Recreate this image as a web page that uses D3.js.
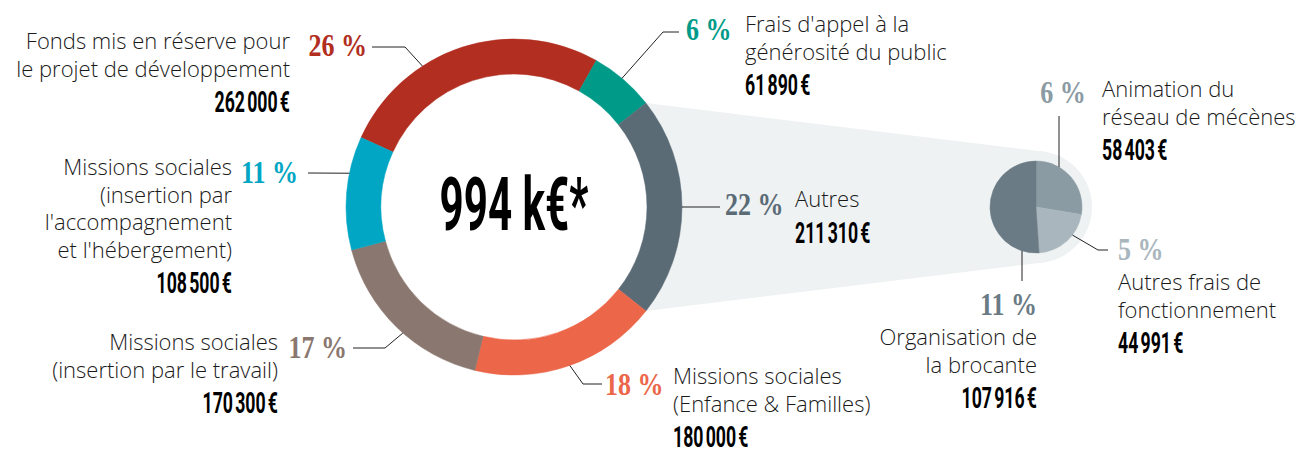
<!DOCTYPE html>
<html>
<head>
<meta charset="utf-8">
<script src="https://cdn.jsdelivr.net/npm/d3@7"></script>
<style>
  body { margin: 0; background: #fff; }
  .lbl { font-family: "Open Sans", sans-serif; font-weight: 300; font-size: 22px; fill: #1a1a1a; }
  .num { font-family: Roboto, sans-serif; font-weight: 700; fill: #000; }
  .pct { font-family: "Liberation Serif", serif; font-weight: 700; }
  .leader { fill: none; stroke: #222; stroke-width: 1; }
</style>
</head>
<body>
<div id="chart"></div>
<script>
// --- data ---
const categories = [
  ["Fonds mis en réserve pour", "le projet de développement"],
  ["Frais d'appel à la", "générosité du public"],
  ["Autres"],
  ["Missions sociales", "(Enfance & Familles)"],
  ["Missions sociales", "(insertion par le travail)"],
  ["Missions sociales", "(insertion par", "l'accompagnement", "et l'hébergement)"]
];
const values = [262000, 61890, 211310, 180000, 170300, 108500];
const pctLabels = ["26 %", "6 %", "22 %", "18 %", "17 %", "11 %"];
const colors = ["#b12e20", "#009b88", "#5b6b76", "#ec674a", "#8a776f", "#00a6c3"];

// detail of "Autres"
const subCategories = [
  ["Animation du", "réseau de mécènes"],
  ["Autres frais de", "fonctionnement"],
  ["Organisation de", "la brocante"]
];
const subValues = [58403, 44991, 107916];
const subPctLabels = ["6 %", "5 %", "11 %"];
const subColors = ["#8b9ba4", "#a9b6bd", "#6b7b85"];

// --- layout ---
const W = 1300, H = 450;
const cx = 514, cy = 207, rIn = 133, rOut = 168;
const sx = 1036, sy = 207, sr = 46, halo = 56;
const bandColor = "#eef2f3";
const lineStep = 27.5, numGap = 35.5;

// label anchors (angle where leader meets the ring, in degrees)
const mainLayout = [
  {ang: -33, pts: [[405, 47], [372, 47]], pct: [367, 56, "end"], txt: [290, 49, "end"]},
  {ang: 40, pts: [[663, 32], [679, 32]], pct: [686, 40, "start"], txt: [745, 32, "start"]},
  {ang: 90, pts: [[720, 207]], pct: [725, 215, "start"], txt: [795, 207, "start"]},
  {ang: 160.6, pts: [[583, 384], [602, 384]], pct: [605, 395, "start"], txt: [673, 384, "start"]},
  {ang: -138.6, pts: [[385, 348], [353, 348]], pct: [347, 358, "end"], txt: [278, 350, "end"]},
  {ang: -78.4, pts: [[308, 173]], pct: [298, 183, "end"], txt: [232, 175, "end"]}
];
const subLayout = [
  {ang: 30, pts: [[1059, 116]], pct: [1063, 103, "middle"], txt: [1102, 97, "start"]},
  {ang: 127.6, pts: [[1098, 250], [1108, 250]], pct: [1118, 260, "start"], txt: [1118, 290, "start"]},
  {ang: 197.7, pts: [[1022, 281]], pct: [1037, 315, "end"], txt: [1037, 345, "end"]}
];

const fr = d3.formatLocale({decimal: ",", thousands: "\u202f", grouping: [3], currency: ["", "\u202f€"]});
const fmt = fr.format("$,d");

const svg = d3.select("#chart").append("svg")
  .attr("width", W)
  .attr("height", H);

const total = d3.sum(values);
// rotate so that "Autres" is centred at 3 o'clock
const before = values[0] + values[1];
const offset = Math.PI / 2 - (before + values[2] / 2) / total * 2 * Math.PI;

const pie = d3.pie().sort(null).startAngle(offset).endAngle(offset + 2 * Math.PI);
const arcs = pie(values);
const arc = d3.arc().innerRadius(rIn).outerRadius(rOut);

// projection band from "Autres" to the small pie
const autres = arcs[2];
const p0 = d3.pointRadial(autres.startAngle, rOut).map((v, i) => v + (i ? cy : cx));
const p1 = d3.pointRadial(autres.endAngle, rOut).map((v, i) => v + (i ? cy : cx));

function tangent(p, upper) {
  const vx = sx - p[0], vy = sy - p[1];
  const d = Math.hypot(vx, vy);
  const th = Math.atan2(vy, vx);
  const a = Math.asin(halo / d);
  const dir = upper ? th - a : th + a;
  const len = Math.sqrt(d * d - halo * halo);
  return [p[0] + len * Math.cos(dir), p[1] + len * Math.sin(dir)];
}
const t0 = tangent(p0, true), t1 = tangent(p1, false);

svg.append("path")
  .attr("d", d3.line()([p0, t0, t1, p1]) + "Z")
  .attr("fill", bandColor);
svg.append("circle")
  .attr("cx", sx).attr("cy", sy).attr("r", halo)
  .attr("fill", bandColor);

// main donut
const g = svg.append("g").attr("transform", `translate(${cx},${cy})`);
g.append("circle").attr("r", rIn).attr("fill", "#fff");
g.selectAll("path.slice")
  .data(arcs)
  .enter()
  .append("path")
  .attr("class", "slice")
  .attr("d", arc)
  .attr("fill", (d, i) => colors[i])
  .attr("stroke", (d, i) => colors[i])
  .attr("stroke-width", 0.5);

// total in the centre
svg.append("text")
  .attr("class", "num")
  .attr("transform", `translate(${cx},230) scale(0.57,1)`)
  .attr("text-anchor", "middle")
  .style("font-size", "74px")
  .text(Math.round(total / 1000) + " k€*");

// small pie
const subPie = d3.pie().sort(null);
const subArc = d3.arc().innerRadius(0).outerRadius(sr);
const sg = svg.append("g").attr("transform", `translate(${sx},${sy})`);
sg.selectAll("path")
  .data(subPie(subValues))
  .enter()
  .append("path")
  .attr("d", subArc)
  .attr("fill", (d, i) => subColors[i])
  .attr("stroke", (d, i) => subColors[i])
  .attr("stroke-width", 0.5);

function drawLabel(lay, r, ox, oy, lines, value, pct, color) {
  const start = d3.pointRadial(lay.ang * Math.PI / 180, r);
  const pts = [[start[0] + ox, start[1] + oy]].concat(lay.pts);
  svg.append("path").attr("class", "leader").attr("d", d3.line()(pts));

  svg.append("text")
    .attr("class", "pct")
    .attr("transform", `translate(${lay.pct[0]},${lay.pct[1]}) scale(0.84,1)`)
    .attr("text-anchor", lay.pct[2])
    .attr("fill", color)
    .style("font-size", "31px")
    .text(pct);

  const [tx, ty, anchor] = lay.txt;
  lines.forEach((s, k) => {
    svg.append("text")
      .attr("class", "lbl")
      .attr("x", tx)
      .attr("y", ty + k * lineStep)
      .attr("text-anchor", anchor)
      .text(s);
  });
  svg.append("text")
    .attr("class", "num")
    .attr("transform", `translate(${tx},${ty + (lines.length - 1) * lineStep + numGap}) scale(0.61,1)`)
    .attr("text-anchor", anchor)
    .style("font-size", "29px")
    .text(fmt(value));
}

mainLayout.forEach((lay, i) => drawLabel(lay, rOut, cx, cy, categories[i], values[i], pctLabels[i], colors[i]));
subLayout.forEach((lay, i) => drawLabel(lay, sr, sx, sy, subCategories[i], subValues[i], subPctLabels[i], subColors[i]));
</script>
</body>
</html>
